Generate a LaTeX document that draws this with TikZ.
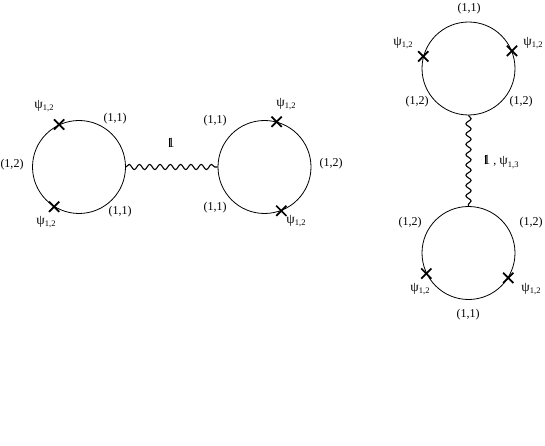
\documentclass[tikz,border=0pt]{standalone}
\usepackage{fontspec}
\setmainfont{Liberation Serif}
\usetikzlibrary{shapes.misc,decorations.pathmorphing}
\newcommand{\psisub}[1]{{\fontsize{13.5}{14}\selectfont ψ}\raisebox{-0.45ex}{\fontsize{8.5}{9}\selectfont #1}}
\newcommand{\idop}{{\fontsize{14}{15}\selectfont\rlap{1}\kern0.14em\rule[0.02em]{0.06em}{0.64em}\kern0.3em}}
\tikzset{
  loopc/.style={circle,draw,line width=0.8pt,minimum size=93pt,inner sep=0pt},
  insertion/.style={cross out,draw,line width=1.7pt,minimum size=8.5pt,inner sep=0pt},
  wavy/.style={decorate,decoration={snake,segment length=10.3pt,amplitude=2.6pt},line width=1.1pt},
  lab/.style={font=\fontsize{12}{14}\selectfont,inner sep=0pt}
}
\begin{document}
\begin{tikzpicture}[x=1pt,y=-1pt]
            \useasboundingbox (0,0) rectangle (545,446);
            % left diagram: two loops joined horizontally
            \node[loopc] (lcirc) at (79,167) {};
            \node[loopc] (rcirc) at (264.5,167) {};
            \draw[wavy] (lcirc.east) -- (rcirc.west);
            \node[insertion] (lx1) at (lcirc.115) {};
            \node[insertion] (lx2) at (lcirc.238) {};
            \node[insertion] (rx1) at (rcirc.75) {};
            \node[insertion] (rx2) at (rcirc.291) {};
            \node[lab] (lp1) at (44,106) {\psisub{1,2}};
            \node[lab] (lp2) at (46,222) {\psisub{1,2}};
            \node[lab] (la1) at (115,119) {(1,1)};
            \node[lab] (la2) at (12,165) {(1,2)};
            \node[lab] (la3) at (120,212) {(1,1)};
            \node[lab] (lid) at (171,143) {\idop};
            \node[lab] (rp1) at (286,104) {\psisub{1,2}};
            \node[lab] (rp2) at (296,221) {\psisub{1,2}};
            \node[lab] (ra1) at (215,121) {(1,1)};
            \node[lab] (ra2) at (331,164) {(1,2)};
            \node[lab] (ra3) at (215,208) {(1,1)};
            % right diagram: two loops joined vertically
            \node[loopc] (tcirc) at (468.5,68.5) {};
            \node[loopc] (bcirc) at (468.5,253) {};
            \draw[wavy] (tcirc.south) -- (bcirc.north);
            \node[insertion] (tx1) at (tcirc.165) {};
            \node[insertion] (tx2) at (tcirc.22) {};
            \node[insertion] (bx1) at (bcirc.206) {};
            \node[insertion] (bx2) at (bcirc.328) {};
            \node[lab] (ta1) at (469,9) {(1,1)};
            \node[lab] (tp1) at (403,43) {\psisub{1,2}};
            \node[lab] (tp2) at (533,43) {\psisub{1,2}};
            \node[lab] (ta2) at (417,102) {(1,2)};
            \node[lab] (ta3) at (521,102) {(1,2)};
            \node[lab] (vid) at (501,162) {\idop\ , \psisub{1,3}};
            \node[lab] (ba1) at (410,223) {(1,2)};
            \node[lab] (ba2) at (531,223) {(1,2)};
            \node[lab] (bp1) at (420,289) {\psisub{1,2}};
            \node[lab] (bp2) at (531,289) {\psisub{1,2}};
            \node[lab] (ba3) at (468,315) {(1,1)};
        \end{tikzpicture}
\end{document}
